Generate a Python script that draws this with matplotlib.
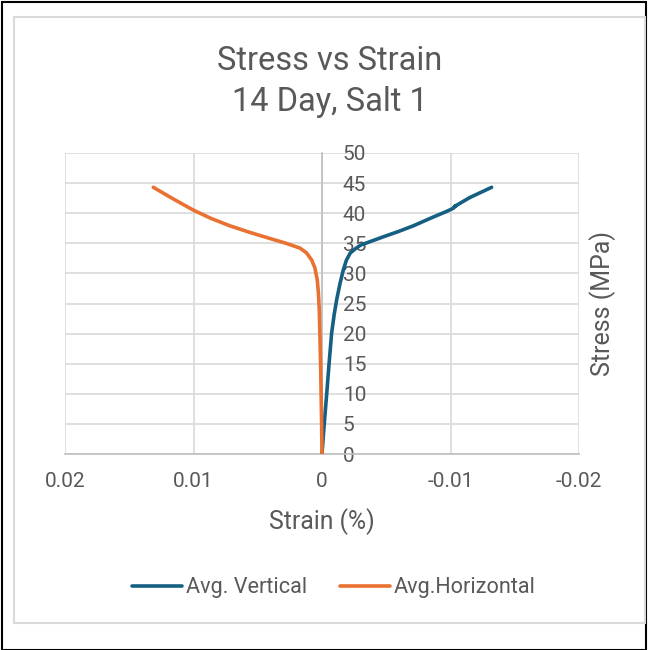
import matplotlib
matplotlib.use('Agg')
import matplotlib.pyplot as plt
from matplotlib.patches import Rectangle
from matplotlib.lines import Line2D

plt.rcParams['font.family'] = ['Roboto', 'DejaVu Sans']

# strain (%) and stress (MPa)
vert_strain = [0, -0.00012, -0.00025, -0.00037, -0.00055, -0.00075, -0.00095, -0.00114,
               -0.0014, -0.00166, -0.0019, -0.0022, -0.0026, -0.003, -0.0039, -0.0048,
               -0.006, -0.0071, -0.0087, -0.0097, -0.0102, -0.0104, -0.0103, -0.0115, -0.0132]
vert_stress = [0, 3.5, 7, 10.1, 15, 20.1, 23.2, 25.6,
               28.3, 30.6, 32.2, 33.4, 34.1, 34.7, 35.4, 36.1,
               37.0, 37.9, 39.4, 40.3, 40.8, 41.2, 41.1, 42.6, 44.3]

horz_strain = [0, 0.00003, 0.0001, 0.00016, 0.00021, 0.00028, 0.00037, 0.00055, 0.0008,
               0.0012, 0.00171, 0.0028, 0.00405, 0.0056, 0.00716, 0.0086, 0.0100,
               0.0116, 0.01313]
horz_stress = [0, 5, 14, 19.5, 23.9, 26.8, 28.9, 30.9, 32.2,
               33.4, 34.2, 35.0, 35.8, 36.8, 37.9, 39.1, 40.5,
               42.4, 44.3]

x_ticks = [0.02, 0.01, 0, -0.01, -0.02]
x_labels = ['0.02', '0.01', '0', '-0.01', '-0.02']
y_ticks = [0, 5, 10, 15, 20, 25, 30, 35, 40, 45, 50]

blue = '#156082'
orange = '#E97132'
txt = '#595959'
grid = '#d9d9d9'

fig = plt.figure(figsize=(6.51, 6.50), dpi=100)
W, H = 651, 650

# outer frames
fig.add_artist(Rectangle((1.5 / W, 0), (646 - 1.5) / W, (650 - 2) / H, transform=fig.transFigure,
                         fill=False, edgecolor='black', linewidth=1.5))
fig.add_artist(Rectangle((14 / W, (650 - 623) / H), (645 - 14) / W, (623 - 17) / H,
                         transform=fig.transFigure, fill=False, edgecolor=grid, linewidth=1.5))

ax = fig.add_axes([65 / W, (650 - 454) / H, (579 - 65) / W, (454 - 153) / H])

ax.plot(vert_strain, vert_stress, color=blue, linewidth=2.6, solid_capstyle='round', zorder=3)
ax.plot(horz_strain, horz_stress, color=orange, linewidth=2.6, solid_capstyle='round', zorder=3)

ax.set_xlim(0.02, -0.02)
ax.set_ylim(0, 50)
ax.set_xticks(x_ticks)
ax.set_xticklabels(x_labels)
ax.set_yticks(y_ticks)

ax.grid(True, color=grid, linewidth=1.2)
ax.set_axisbelow(True)

for s in ['top', 'left']:
    ax.spines[s].set_visible(False)
ax.spines['bottom'].set_color('#bfbfbf')
ax.spines['bottom'].set_linewidth(1.2)
ax.spines['right'].set_position(('data', 0))
ax.spines['right'].set_color('#bfbfbf')
ax.spines['right'].set_linewidth(1.2)
ax.yaxis.tick_right()
ax.tick_params(axis='both', length=0, labelsize=15, labelcolor=txt)
ax.tick_params(axis='x', pad=13)
ax.tick_params(axis='y', pad=15)
for lab in ax.get_yticklabels():
    lab.set_horizontalalignment('left')

ax.set_xlabel('Strain (%)', fontsize=17.8, color=txt, labelpad=12)
ax.yaxis.set_label_position('right')
ax.set_ylabel('Stress (MPa)', fontsize=18, color=txt, rotation=90)
ax.yaxis.set_label_coords(1.02, 0.5)

fig.text(330 / W, 1 - 61 / H, 'Stress vs Strain', ha='center', va='center', fontsize=23.5, color=txt)
fig.text(330 / W, 1 - 102 / H, '14 Day, Salt 1', ha='center', va='center', fontsize=23.5, color=txt)

handles = [Line2D([], [], color=blue, linewidth=2.6, solid_capstyle='round'),
           Line2D([], [], color=orange, linewidth=2.6, solid_capstyle='round')]
fig.legend(handles, ['Avg. Vertical', 'Avg.Horizontal'], loc='center',
           bbox_to_anchor=(334 / W, 1 - 588 / H), ncol=2, frameon=False,
           fontsize=15.6, labelcolor=txt, handlelength=2.3, handletextpad=0.2, columnspacing=1.5)

fig.savefig('out.png', dpi=100)
